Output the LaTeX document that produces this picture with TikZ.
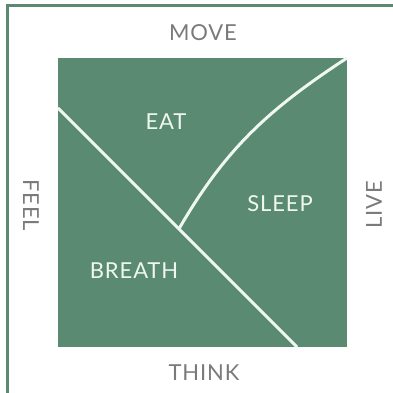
\documentclass[tikz,border=0pt]{standalone}
\usepackage{fontspec}
\setmainfont{Lato}[LetterSpace=4]
\usetikzlibrary{calc}
\definecolor{leaf}{HTML}{5A8A72}
\definecolor{chalk}{HTML}{EEF7F0}
\definecolor{ash}{HTML}{7A7A7A}
\tikzset{every node/.style={font=\fontsize{22}{26}\selectfont,inner sep=0pt},
  frame/.style={draw=leaf,line width=3pt},
  split/.style={draw=chalk,line width=3pt},
  axislbl/.style={text=ash},
  zonelbl/.style={text=chalk}}
\begin{document}
\begin{tikzpicture}[x=1pt,y=1pt]
\useasboundingbox (0,0) rectangle (393,393);
% outer frame: only the left and top rules
\draw[frame] (7,0) -- (7,387) -- (393,387);
% the quadrant square and its two dividers
\fill[leaf] (58,46) rectangle (347,335);
\coordinate (dtop) at (58,285);\coordinate (dbot) at (297,46);\coordinate (corner) at (347,335);
\coordinate (fork) at ($(dtop)!0.506!(dbot)$);
\draw[split] (dtop) -- (dbot);
\draw[split] (fork) .. controls (225.5,244.5) and (269,284) .. (corner);
\node[axislbl] (move) at (203,360) {MOVE};\node[axislbl] (think) at (204,20) {THINK};
\node[axislbl,rotate=-90] (feel) at (31,188) {FEEL};\node[axislbl,rotate=90] (live) at (374,188) {LIVE};
\node[zonelbl] (eat) at (166,271) {EAT};\node[zonelbl] (sleep) at (280,189) {SLEEP};
\node[zonelbl] (breath) at (134,122) {BREATH};
\end{tikzpicture}
\end{document}
